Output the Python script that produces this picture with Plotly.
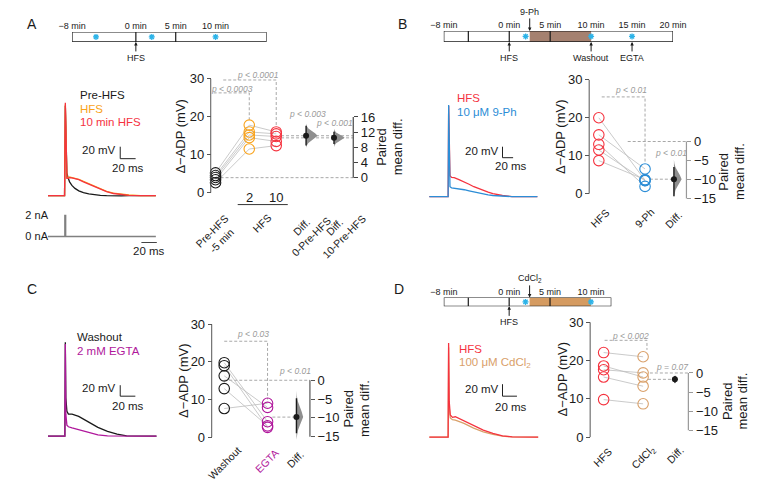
import numpy as np
import plotly.graph_objects as go

PAGE_W, PAGE_H = 772, 492
BODY = 8  # default body margin of the page
W, H = PAGE_W - 2 * BODY, PAGE_H - 2 * BODY
FONT = "Liberation Sans, Arial, Helvetica, sans-serif"

# ======================= DATA =======================
# --- timelines (minutes) ---
tlA_span = [-8, 16.4]
tlA_ticks = [-8, 0, 5, 10]
tlA_labels = ["−8 min", "0 min", "5 min", "10 min"]
tlA_dividers = [0, 5]
tlA_stars = [-5, 2, 10]
tlA_below_names = ["HFS"]
tlA_below_times = [0]

tlB_span = [-8, 20]
tlB_ticks = [-8, 0, 5, 10, 15, 20]
tlB_labels = ["−8 min", "0 min", "5 min", "10 min", "15 min", "20 min"]
tlB_dividers = [-5, 0, 5]
tlB_drug = [2.5, 10]
tlB_stars = [2, 10, 15]
tlB_below_names = ["HFS", "Washout", "EGTA"]
tlB_below_times = [0, 10, 15]
tlB_above_names = ["9-Ph"]
tlB_above_times = [2.5]

tlD_span = [-8, 12.5]
tlD_ticks = [-8, 0, 5, 10]
tlD_labels = ["−8 min", "0 min", "5 min", "10 min"]
tlD_dividers = [-5, 0, 5]
tlD_drug = [2.5, 10]
tlD_stars = [2, 10]
tlD_below_names = ["HFS"]
tlD_below_times = [0]
tlD_above_names = ["CdCl<sub>2</sub>"]
tlD_above_times = [2.5]

# --- voltage traces (ms, mV relative to baseline) ---
tA = [0, 21.5, 22.5, 23.5, 24.5, 26, 28, 31, 35, 40, 46, 53, 60, 68, 76, 85, 95, 105, 120, 140]
vA_pre = [0, 0, 150, 55, 38, 30, 23, 17, 12, 8, 5, 3, 1.5, 0.5, 0, -0.5, -0.5, 0, 0, 0]
vA_hfs = [0, 0, 152, 50, 30, 30, 31, 30, 29, 27, 24, 20, 16, 11, 7, 4, 2, 1, 0, 0]
vA_10 = [0, 0, 155, 50, 29, 29, 30, 29.5, 28.5, 26.5, 23, 19, 15, 10.5, 6.5, 3.5, 1.5, 0.5, 0, 0]
tA_I = [0, 22.0, 22.0, 22.8, 22.8, 140]
iA = [0, 0, 2, 2, 0, 0]

tB = [0, 35.5, 36.5, 37.5, 39, 42, 47, 56, 66, 75, 84, 93, 102, 111, 120, 138, 156, 204]
vB_hfs = [0, 0, 165, 60, 38, 35, 34.5, 31, 27, 22.5, 18, 14.5, 11, 8, 5.5, 2, 0, 0]
vB_ph = [0, 0, 167, 40, 18, 16, 15.5, 14, 12.5, 10.5, 8.5, 6.5, 4.5, 3, 2, 0.5, 0, 0]

tC = [0, 22.3, 22.9, 23.6, 25, 27, 31.8, 40.6, 53.3, 66, 78.7, 91.4, 104, 117, 143.5]
vC_wash = [0, 0, 171, 70, 45, 40, 40, 36, 26, 16, 8.6, 3.6, 0.5, 0, 0]
vC_egta = [0, 0, 168, 40, 20, 17, 15, 11.5, 6.7, 2.4, 0.5, 0, 0, 0, 0]

tD = [0, 26, 26.7, 27.5, 29, 32, 36, 48, 61.3, 74.7, 88, 101.3, 114.7, 150.7]
vD_hfs = [0, 0, 157, 60, 37, 33, 34, 27.2, 18.9, 11.7, 6.1, 2.2, 0.5, 0]
vD_cd = [0, 0, 150, 50, 32, 29, 28.5, 22.8, 15, 8.9, 4.4, 1.7, 0.3, 0]

SB_MV = 20
SB_MS = 20

# --- Δ-ADP (mV) per cell ---
A_pre = [5.2, 4.5, 4.0, 3.4, 2.6]
A_hfs2 = [17.8, 16.0, 15.2, 14.5, 11.5]
A_hfs10 = [16.0, 15.5, 14.8, 13.5, 12.4]

B_hfs = [20.0, 15.5, 13.0, 11.5, 8.7]
B_ph = [3.5, 6.5, 1.9, 3.4, 3.7]

C_wash = [19.8, 19.0, 16.3, 12.9, 7.6]
C_egta = [4.1, 2.6, 7.9, 3.0, 9.0]

D_hfs = [22.1, 18.6, 17.6, 15.7, 9.8]
D_cd = [21.0, 15.7, 16.8, 13.3, 8.7]

left_ticks = [0, 10, 20, 30]
A_right_ticks = [0, 4, 8, 12, 16]
neg_right_ticks = [0, -5, -10, -15]

# bootstrap distribution outline (relative offsets / relative widths)
kde_offsets = [-1.0, -0.8, -0.6, -0.4, -0.2, 0.0, 0.2, 0.4, 0.6, 0.8, 1.0]
kde_widths = [0.0, 0.06, 0.2, 0.45, 0.78, 1.0, 0.78, 0.45, 0.2, 0.06, 0.0]

# ======================= COLOURS =======================
BLACK = "#1a1a1a"
ORANGE = "#F9A31B"
RED = "#F5333F"
BLUE = "#2C8DD6"
MAGENTA = "#B0189C"
TAN = "#D9A06A"
BROWN = "#A58170"
CDTAN = "#D59B61"
CYAN = "#2DB3E8"
LINKGRAY = "#BDBDBD"
DASHGRAY = "#A8A8A8"
PGRAY = "#9A9A9A"
VIOLIN = "#8F8F8F"

# ======================= HELPERS =======================
fig = go.Figure()
axes = {}
shapes = []
annos = []
count = {"x": 0, "y": 0}


def X(p):
    return (p - BODY) / W


def Y(p):
    return 1 - (p - BODY) / H


def lin(p, pa, va, pb, vb):
    return va + (p - pa) * (vb - va) / (pb - pa)


def add_x(p0, p1, pa, va, pb, vb, **kw):
    count["x"] += 1
    n = count["x"]
    ref = "x" if n == 1 else f"x{n}"
    ax = dict(domain=[X(p0), X(p1)],
              range=[lin(p0, pa, va, pb, vb), lin(p1, pa, va, pb, vb)],
              visible=False, showgrid=False, zeroline=False, fixedrange=True)
    ax.update(kw)
    axes["xaxis" + ref[1:]] = ax
    return ref


def add_y(ptop, pbot, pa, va, pb, vb, **kw):
    count["y"] += 1
    n = count["y"]
    ref = "y" if n == 1 else f"y{n}"
    ax = dict(domain=[Y(pbot), Y(ptop)],
              range=[lin(pbot, pa, va, pb, vb), lin(ptop, pa, va, pb, vb)],
              visible=False, showgrid=False, zeroline=False, fixedrange=True)
    ax.update(kw)
    axes["yaxis" + ref[1:]] = ax
    return ref


def text(px, py, s, size=11, color=BLACK, xanchor="center", angle=0):
    annos.append(dict(x=X(px), y=Y(py), xref="paper", yref="paper", text=s,
                      showarrow=False, xanchor=xanchor, yanchor="middle",
                      textangle=angle,
                      font=dict(size=size, color=color, family=FONT)))


def pline(x0, y0, x1, y1, color=BLACK, width=1):
    shapes.append(dict(type="line", xref="paper", yref="paper",
                       x0=X(x0), y0=Y(y0), x1=X(x1), y1=Y(y1),
                       line=dict(color=color, width=width)))


def line_trace(xr, yr, xs, ys, color, width=1.0, dash=None):
    fig.add_trace(go.Scatter(x=xs, y=ys, xaxis=xr, yaxis=yr, mode="lines",
                             line=dict(color=color, width=width, dash=dash),
                             hoverinfo="skip"))


# ======================= TIMELINES =======================
def timeline(px0, px1, ptop, pbot, span, ticks, labels, dividers, stars,
             drug, drug_color, below_n, below_t, above_n, above_t):
    yr = add_y(ptop, pbot, pbot, 0, ptop, 1)
    xr = add_x(px0, px1, px0, span[0], px1, span[1], visible=True, side="top",
               anchor=yr, tickvals=ticks, ticktext=labels, ticks="",
               showline=False, tickfont=dict(size=9, color=BLACK, family=FONT))
    if drug:
        shapes.append(dict(type="rect", xref=xr, yref=yr, x0=drug[0], x1=drug[1],
                           y0=0, y1=1, fillcolor=drug_color, line=dict(width=0),
                           layer="below"))
    shapes.append(dict(type="rect", xref=xr, yref=yr, x0=span[0], x1=span[1],
                       y0=0, y1=1, line=dict(color=BLACK, width=1.2)))
    for d in dividers:
        shapes.append(dict(type="line", xref=xr, yref=yr, x0=d, x1=d, y0=0, y1=1,
                           line=dict(color=BLACK, width=1.2)))
    fig.add_trace(go.Scatter(x=stars, y=[0.5] * len(stars), xaxis=xr, yaxis=yr,
                             mode="markers", hoverinfo="skip",
                             marker=dict(symbol="asterisk-open", size=5, color=CYAN,
                                         line=dict(color=CYAN, width=1.3))))
    for n, t in zip(below_n, below_t):
        annos.append(dict(x=t, y=0, xref=xr, yref=yr, text=n, showarrow=True,
                          ax=0, ay=16, arrowhead=2, arrowsize=0.7, arrowwidth=1,
                          arrowcolor=BLACK, font=dict(size=9, color=BLACK, family=FONT)))
    for n, t in zip(above_n, above_t):
        annos.append(dict(x=t, y=1, xref=xr, yref=yr, text=n, showarrow=True,
                          ax=0, ay=-19, arrowhead=2, arrowsize=0.7, arrowwidth=1,
                          arrowcolor=BLACK, font=dict(size=9, color=BLACK, family=FONT)))


timeline(60, 262, 32, 42, tlA_span, tlA_ticks, tlA_labels, tlA_dividers, tlA_stars,
         None, None, tlA_below_names, tlA_below_times, [], [])
timeline(446, 684, 31, 42, tlB_span, tlB_ticks, tlB_labels, tlB_dividers, tlB_stars,
         tlB_drug, BROWN, tlB_below_names, tlB_below_times, tlB_above_names, tlB_above_times)
timeline(446, 620, 298, 307, tlD_span, tlD_ticks, tlD_labels, tlD_dividers, tlD_stars,
         tlD_drug, CDTAN, tlD_below_names, tlD_below_times, tlD_above_names, tlD_above_times)


# ======================= VOLTAGE TRACES =======================
def trace_panel(dom_x, dom_y, x0_px, ms_px, base_px, mv_px, t, series, sb_px):
    xr = add_x(dom_x[0], dom_x[1], x0_px, 0, x0_px + ms_px, 20)
    yr = add_y(dom_y[0], dom_y[1], base_px, 0, base_px - mv_px, 20)
    for vals, color in series:
        line_trace(xr, yr, t, vals, color, 1.3)
    t0 = lin(sb_px[0], x0_px, 0, x0_px + ms_px, 20)
    v0 = lin(sb_px[1], base_px, 0, base_px - mv_px, 20)
    line_trace(xr, yr, [t0, t0, t0 + SB_MS], [v0 + SB_MV, v0, v0], "#222", 1.0)
    return xr, yr


trace_panel((30, 160), (95, 205), 35, 16, 196, 12, tA,
            [(vA_pre, BLACK), (vA_hfs, ORANGE), (vA_10, RED)], (110, 159))
trace_panel((425, 550), (90, 205), 431, 11, 197, 11, tB,
            [(vB_hfs, RED), (vB_ph, BLUE)], (507, 158))
trace_panel((30, 160), (330, 447), 35, 15.7, 437, 11, tC,
            [(vC_wash, BLACK), (vC_egta, MAGENTA)], (110, 397))
trace_panel((425, 550), (335, 447), 431, 15, 438, 12, tD,
            [(vD_cd, TAN), (vD_hfs, RED)], (507, 397))

# current injection (A)
xI = add_x(30, 160, 35, 0, 51, 20)
yI = add_y(205, 255, 237, 0, 216, 2, visible=True, anchor="free", position=X(35),
           tickvals=[0, 2], ticktext=["0 nA", "2 nA"], ticks="", showline=False,
           tickfont=dict(size=11, color=BLACK, family=FONT))
line_trace(xI, yI, tA_I, iA, "#808080", 1.6)
tI0 = lin(132, 35, 0, 51, 20)
iI0 = lin(243, 237, 0, 216, 2)
line_trace(xI, yI, [tI0, tI0 + SB_MS], [iI0, iI0], "#444", 1.0)
text(140, 252, "20 ms", 11.5)

# trace legends and scale labels
text(66, 95.5, "Pre-HFS", 11.5, BLACK, "left")
text(66, 109, "HFS", 11.5, ORANGE, "left")
text(66, 122, "10 min HFS", 11.5, RED, "left")
text(108, 150, "20 mV", 11.5, BLACK, "right")
text(118, 168, "20 ms", 11.5)

text(458, 98.5, "HFS", 11.5, RED, "left")
text(458, 112.5, "10 μM 9-Ph", 11.5, BLUE, "left")
text(505, 151, "20 mV", 11.5, BLACK, "right")
text(516, 166, "20 ms", 11.5)

text(63, 338, "Washout", 11.5, BLACK, "left")
text(63, 352, "2 mM EGTA", 11.5, MAGENTA, "left")
text(108, 389, "20 mV", 11.5, BLACK, "right")
text(118, 407, "20 ms", 11.5)

text(460, 350, "HFS", 11.5, RED, "left")
text(460, 364, "100 μM CdCl<sub>2</sub>", 11.5, TAN, "left")
text(505, 390, "20 mV", 11.5, BLACK, "right")
text(516, 408, "20 ms", 11.5)


# ======================= ESTIMATION PLOTS =======================
def est_axes(xdom, ydom, zero_px, thirty_px, left_px, right_px, ref_mean,
             rticks, rline, rcolor):
    xS = add_x(xdom[0], xdom[1], xdom[0], xdom[0], xdom[1], xdom[1])
    yL = add_y(ydom[0], ydom[1], zero_px, 0, thirty_px, 30, visible=True,
               anchor="free", position=X(left_px), tickvals=left_ticks,
               ticks="outside", ticklen=4, tickwidth=1, tickcolor="#555",
               showline=False, tickfont=dict(size=13, color=BLACK, family=FONT))
    yR = add_y(ydom[0], ydom[1], zero_px, -ref_mean, thirty_px, 30 - ref_mean,
               visible=True, overlaying=yL, anchor="free", position=X(right_px),
               side="right", tickvals=rticks, ticks="outside", ticklen=4,
               tickwidth=1, tickcolor=rcolor, showline=False,
               tickfont=dict(size=13, color=BLACK, family=FONT))
    shapes.append(dict(type="line", xref="paper", yref=yL, x0=X(left_px), x1=X(left_px),
                       y0=0, y1=30, line=dict(color="#555", width=1)))
    shapes.append(dict(type="line", xref="paper", yref=yR, x0=X(right_px), x1=X(right_px),
                       y0=rline[0], y1=rline[1], line=dict(color=rcolor, width=1.2)))
    return xS, yL, yR


def circles(xS, yL, xpos, vals, color):
    fig.add_trace(go.Scatter(x=[xpos] * len(vals), y=vals, xaxis=xS, yaxis=yL,
                             mode="markers", hoverinfo="skip",
                             marker=dict(symbol="circle-open", size=10.5, color=color,
                                         line=dict(width=1.1, color=color))))


def links(xS, yL, xposs, groups):
    for i in range(len(groups[0])):
        line_trace(xS, yL, xposs, [g[i] for g in groups], LINKGRAY, 0.8)


def diff_mark(xS, yR, dx, d, spread, wpx, ci):
    offs = np.array(kde_offsets)
    wf = np.array(kde_widths)
    yy = np.where(offs < 0, d + offs * spread[1], d + offs * spread[0])
    xx = dx + wf * wpx
    fig.add_trace(go.Scatter(x=xx, y=yy, xaxis=xS, yaxis=yR, mode="lines",
                             fill="toself", fillcolor=VIOLIN, line=dict(width=0),
                             hoverinfo="skip"))
    line_trace(xS, yR, [dx, dx], [d - ci[1], d + ci[0]], BLACK, 1.4)
    fig.add_trace(go.Scatter(x=[dx], y=[d], xaxis=xS, yaxis=yR, mode="markers",
                             hoverinfo="skip", marker=dict(size=6, color=BLACK)))


def dashed(xS, yL, xs, ys):
    line_trace(xS, yL, xs, ys, DASHGRAY, 1.0, "3px,2px")


def ptext(px, py, s):
    text(px, py, "<i>" + s + "</i>", 8.5, PGRAY)


def paired_title(cx, cy):
    text(cx - 8, cy, "Paired", 13, BLACK, "center", -90)
    text(cx + 8, cy, "mean diff.", 13, BLACK, "center", -90)


# ---------- Panel A ----------
mA0 = float(np.mean(A_pre))
mA2 = float(np.mean(A_hfs2))
mA10 = float(np.mean(A_hfs10))
xS, yL, yR = est_axes((185, 365), (70, 205), 193, 79, 204, 352, mA0,
                      A_right_ticks, (0, 16), "#444")
dashed(xS, yL, [209, 352], [mA0, mA0])
dashed(xS, yL, [277, 352], [mA2, mA2])
dashed(xS, yL, [277, 352], [mA10, mA10])
dashed(xS, yL, [207, 244, 244], [26.3, 26.3, max(A_hfs2) + 1.4])
dashed(xS, yL, [217, 272, 272], [29.7, 29.7, max(A_hfs10) + 1.6])
links(xS, yL, [209, 244, 272], [A_pre, A_hfs2, A_hfs10])
circles(xS, yL, 209, A_pre, BLACK)
circles(xS, yL, 244, A_hfs2, ORANGE)
circles(xS, yL, 272, A_hfs10, RED)
diff_mark(xS, yR, 303, mA2 - mA0, (3.2, 3.2), 12, (2.6, 2.6))
diff_mark(xS, yR, 332, mA10 - mA0, (2.4, 2.4), 11, (1.6, 1.6))
ptext(226, 89, "p &lt; 0.0003")
ptext(253, 75, "p &lt; 0.0001")
ptext(304, 114, "p &lt; 0.003")
ptext(332, 123, "p &lt; 0.001")
pline(232, 205, 284, 205, "#333", 1)
text(244, 198, "2", 13)
text(272, 198, "10", 13)
text(173, 136, "Δ−ADP (mV)", 13, BLACK, "center", -90)
paired_title(390, 147)
text(210, 236, "Pre-HFS<br>-5 min", 10.5, BLACK, "center", -45)
text(257, 223, "HFS", 10.5, BLACK, "center", -45)
text(303, 232, "Diff.<br>0-Pre-HFS", 10.5, BLACK, "center", -45)
text(337, 232, "Diff.<br>10-Pre-HFS", 10.5, BLACK, "center", -45)

# ---------- Panel B ----------
mB0 = float(np.mean(B_hfs))
mB1 = float(np.mean(B_ph))
xS, yL, yR = est_axes((580, 708), (70, 205), 194, 80, 597, 698, mB0,
                      neg_right_ticks, (-15, 0), "#999")
dashed(xS, yL, [637, 698], [mB0, mB0])
dashed(xS, yL, [660, 685], [mB1, mB1])
dashed(xS, yL, [610, 655, 655], [25.5, 25.5, max(B_ph) + 1.6])
links(xS, yL, [607, 655], [B_hfs, B_ph])
circles(xS, yL, 607, B_hfs, RED)
circles(xS, yL, 655, B_ph, BLUE)
diff_mark(xS, yR, 685, mB1 - mB0, (5.2, 4.8), 8, (3.2, 4.5))
ptext(640, 90, "p &lt; 0.01")
ptext(682, 153, "p &lt; 0.01")
text(567, 137, "Δ−ADP (mV)", 13, BLACK, "center", -90)
paired_title(745, 172)
text(608, 218, "HFS", 10.5, BLACK, "center", -45)
text(654, 218, "9-Ph", 10.5, BLACK, "center", -45)
text(684, 220, "Diff.", 10.5, BLACK, "center", -45)

# ---------- Panel C ----------
mC0 = float(np.mean(C_wash))
mC1 = float(np.mean(C_egta))
xS, yL, yR = est_axes((195, 320), (315, 450), 438, 325, 205, 307, mC0,
                      neg_right_ticks, (-15, 0), "#555")
dashed(xS, yL, [218, 307], [mC0, mC0])
dashed(xS, yL, [268, 293], [mC1, mC1])
dashed(xS, yL, [218, 263, 263], [25.5, 25.5, max(C_egta) + 1.0])
links(xS, yL, [218, 263], [C_wash, C_egta])
circles(xS, yL, 218, C_wash, BLACK)
circles(xS, yL, 263, C_egta, MAGENTA)
diff_mark(xS, yR, 293, mC1 - mC0, (7.0, 6.0), 7, (5.0, 4.3))
ptext(248, 335, "p &lt; 0.03")
ptext(291, 372, "p &lt; 0.01")
text(175, 381, "Δ−ADP (mV)", 13, BLACK, "center", -90)
paired_title(355, 409)
text(218, 464, "Washout", 10.5, BLACK, "center", -45)
text(262, 462, "EGTA", 10.5, MAGENTA, "center", -45)
text(292, 460, "Diff.", 10.5, BLACK, "center", -45)

# ---------- Panel D ----------
mD0 = float(np.mean(D_hfs))
mD1 = float(np.mean(D_cd))
xS, yL, yR = est_axes((588, 712), (313, 450), 438, 323, 598, 700, mD0,
                      neg_right_ticks, (-15, 0), "#999")
dashed(xS, yL, [660, 700], [mD0, mD0])
dashed(xS, yL, [658, 686], [mD1, mD1])
dashed(xS, yL, [613, 657, 657], [25.3, 25.3, max(D_cd) + 1.8])
links(xS, yL, [612, 653], [D_hfs, D_cd])
circles(xS, yL, 612, D_hfs, RED)
circles(xS, yL, 653, D_cd, TAN)
diff_mark(xS, yR, 686, mD1 - mD0, (1.3, 1.3), 3, (0.9, 0.9))
ptext(640, 337, "p &lt; 0.002")
ptext(683, 368, "p = 0.07")
text(569, 380, "Δ−ADP (mV)", 13, BLACK, "center", -90)
paired_title(748, 402)
text(611, 458, "HFS", 10.5, BLACK, "center", -45)
text(653, 459, "CdCl<sub>2</sub>", 10.5, BLACK, "center", -45)
text(686, 456, "Diff.", 10.5, BLACK, "center", -45)

# ---------- panel letters ----------
text(18, 24, "A", 14)
text(403, 24, "B", 14)
text(18, 290, "C", 14)
text(400, 290, "D", 14)

fig.update_layout(
    width=W, height=H, margin=dict(l=0, r=0, t=0, b=0, pad=0),
    paper_bgcolor="white", plot_bgcolor="rgba(0,0,0,0)",
    showlegend=False, hovermode=False,
    font=dict(family=FONT, size=12, color=BLACK),
    shapes=shapes, annotations=annos, **axes,
)

fig.write_html("out.html", config={"displayModeBar": False})
